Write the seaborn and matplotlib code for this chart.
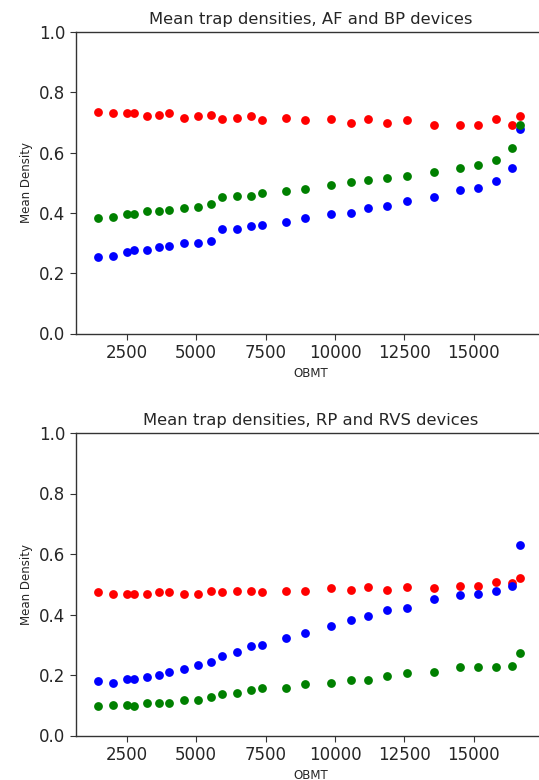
import numpy as np
import pandas as pd
import matplotlib
matplotlib.use("Agg")
import matplotlib.pyplot as plt
import seaborn as sns

# Observation times (OBMT) shared by every series
obmt = [1455, 1994, 2496, 2759, 3236, 3682, 4041, 4580, 5083, 5535,
        5930, 6483, 6972, 7367, 8229, 8919, 9871, 10564, 11175, 11872,
        12611, 13560, 14515, 15162, 15808, 16361, 16659]

# AF / BP devices
af_bp_red = [0.734, 0.730, 0.733, 0.730, 0.720, 0.724, 0.730, 0.715, 0.721, 0.725,
             0.711, 0.715, 0.721, 0.707, 0.715, 0.708, 0.711, 0.698, 0.711, 0.698,
             0.707, 0.693, 0.693, 0.693, 0.711, 0.693, 0.722]
af_bp_green = [0.383, 0.388, 0.396, 0.395, 0.405, 0.405, 0.411, 0.415, 0.421, 0.429,
               0.452, 0.456, 0.456, 0.466, 0.471, 0.480, 0.494, 0.503, 0.508, 0.517,
               0.522, 0.536, 0.549, 0.558, 0.577, 0.614, 0.692]
af_bp_blue = [0.253, 0.258, 0.270, 0.276, 0.276, 0.287, 0.291, 0.299, 0.299, 0.308,
              0.346, 0.346, 0.355, 0.360, 0.369, 0.382, 0.396, 0.401, 0.415, 0.424,
              0.439, 0.452, 0.475, 0.484, 0.507, 0.548, 0.679]

# RP / RVS devices
rp_rvs_red = [0.474, 0.469, 0.469, 0.469, 0.469, 0.474, 0.474, 0.469, 0.469, 0.479,
              0.474, 0.479, 0.479, 0.474, 0.479, 0.479, 0.487, 0.482, 0.491, 0.482,
              0.491, 0.487, 0.493, 0.493, 0.508, 0.503, 0.520]
rp_rvs_green = [0.096, 0.100, 0.100, 0.096, 0.109, 0.109, 0.109, 0.117, 0.117, 0.128,
                0.137, 0.141, 0.150, 0.156, 0.156, 0.170, 0.174, 0.183, 0.183, 0.198,
                0.206, 0.211, 0.225, 0.225, 0.225, 0.230, 0.272]
rp_rvs_blue = [0.179, 0.173, 0.188, 0.188, 0.193, 0.201, 0.210, 0.221, 0.233, 0.244,
               0.262, 0.275, 0.295, 0.298, 0.322, 0.340, 0.363, 0.381, 0.395, 0.414,
               0.423, 0.450, 0.464, 0.469, 0.479, 0.493, 0.631]

titles = ["Mean trap densities, AF and BP devices",
          "Mean trap densities, RP and RVS devices"]
series_order = ["red", "blue", "green"]


def long_frame(red, green, blue):
    parts = []
    for name, vals in (("red", red), ("blue", blue), ("green", green)):
        parts.append(pd.DataFrame({"OBMT": obmt, "density": vals, "series": name}))
    return pd.concat(parts, ignore_index=True)


frames = [long_frame(af_bp_red, af_bp_green, af_bp_blue),
          long_frame(rp_rvs_red, rp_rvs_green, rp_rvs_blue)]

sns.set_style("white")
plt.rcParams["font.family"] = ["DejaVu Sans"]

fig = plt.figure(figsize=(5.39, 7.80), dpi=100)
W, H = 539.0, 780.0
left = 75.6 / W
width = (546.0 - 75.6) / W
ax_top = fig.add_axes([left, 1 - 333.5 / H, width, (333.5 - 32.0) / H])
ax_bot = fig.add_axes([left, 1 - 735.5 / H, width, (735.5 - 433.0) / H])

for ax, df, title in zip((ax_top, ax_bot), frames, titles):
    for name in series_order:
        sub = df[df["series"] == name]
        sns.scatterplot(data=sub, x="OBMT", y="density", color=name,
                        s=40, linewidth=0, ax=ax, legend=False, zorder=3)
    ax.set_ylim(0, 1.0)
    ax.set_xlim(661, 17600)
    ax.set_yticks([0.0, 0.2, 0.4, 0.6, 0.8, 1.0])
    ax.set_xticks([2500, 5000, 7500, 10000, 12500, 15000])
    ax.tick_params(axis="both", labelsize=12, length=4, width=0.8,
                   direction="out", color="#333333", bottom=True, left=True)
    for sp in ax.spines.values():
        sp.set_visible(True)
        sp.set_color("#333333")
        sp.set_linewidth(1.0)
    ax.set_xlabel("OBMT", fontsize=8.5)
    ax.set_ylabel("Mean Density", fontsize=8.5)
    ax.set_title(title, fontsize=11.8)
    ax.grid(False)

fig.savefig("out.png", dpi=100)
